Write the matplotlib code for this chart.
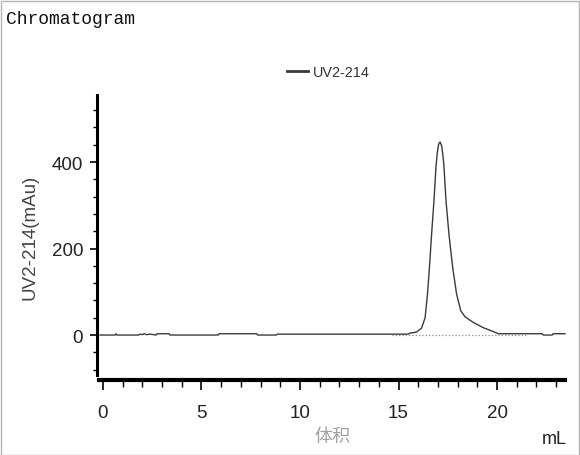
import numpy as np
import matplotlib
matplotlib.use('Agg')
import matplotlib.pyplot as plt
from matplotlib.ticker import MultipleLocator
from matplotlib.patches import Rectangle

# values (mL, mAu)
volume = [-0.15, 0.62, 0.66, 0.70, 1.8, 1.9, 2.0, 2.1, 2.2, 2.4, 2.7, 2.75, 3.35, 3.4,
          5.85, 5.9, 7.8, 7.85, 8.8, 8.85, 15.5, 15.55, 15.92, 16.17, 16.35, 16.47,
          16.57, 16.68, 16.80, 16.90, 16.96, 17.02, 17.07, 17.12, 17.19, 17.24, 17.30,
          17.41, 17.56, 17.75, 17.95, 18.16, 18.38, 18.80, 19.30, 19.81, 20.07, 22.3,
          22.35, 22.8, 22.85, 23.45]
uv = [0, 0, 3, 0, 0, 2, 1, 3, 1, 2, 0, 3, 3, 0,
      0, 3, 3, 0, 0, 2, 2, 4, 7, 16, 40, 94,
      156, 233, 311, 388, 418, 438, 445, 446, 437, 421, 395,
      311, 233, 156, 94, 56, 42, 29, 17, 8, 3, 3,
      0, 0, 3, 3]
baseline_x = [14.65, 21.5]
baseline_y = [0, 0]

series_name = 'UV2-214'
ylabel = 'UV2-214(mAu)'
xlabel = '体积'
xunit = 'mL'
title = 'Chromatogram'

W, H = 580, 456
fig = plt.figure(figsize=(W / 100, H / 100), dpi=100)
fig.patches.append(Rectangle((0.5 / W, 0.5 / H), (W - 2) / W, (H - 2) / H,
                             transform=fig.transFigure, fill=False,
                             edgecolor='#b4b4b4', linewidth=1.0))

ax = fig.add_axes([97 / W, 75 / H, 469 / W, 285 / H])
line, = ax.plot(volume, uv, color='#3a3a3a', lw=1.0, label=series_name)
ax.plot(baseline_x, baseline_y, color='#8a8a8a', lw=0.9, ls=':')

ax.set_xlim(-0.30, 23.5)
ax.set_ylim(-104, 555)

for s in ['top', 'right']:
    ax.spines[s].set_visible(False)
ax.spines['left'].set_linewidth(2.2)
ax.spines['left'].set_bounds(-92, 555)
ax.spines['bottom'].set_linewidth(3.0)
ax.spines['bottom'].set_bounds(-0.18, 23.45)

ax.xaxis.set_major_locator(MultipleLocator(5))
ax.xaxis.set_minor_locator(MultipleLocator(1))
ax.yaxis.set_major_locator(MultipleLocator(200))
ax.yaxis.set_minor_locator(MultipleLocator(40))

ax.tick_params(axis='x', which='major', direction='out', length=7, width=1.2, pad=10)
ax.tick_params(axis='x', which='minor', direction='out', length=5, width=1.0)
ax.tick_params(axis='y', which='major', direction='out', length=5, width=1.2, pad=5)
ax.tick_params(axis='y', which='minor', direction='out', length=3, width=1.0)
for lab in ax.get_xticklabels() + ax.get_yticklabels():
    lab.set_fontfamily('Liberation Sans')
    lab.set_fontsize(13.5)
    lab.set_color('#222222')

fig.text(30 / W, 1 - 237 / H, ylabel, rotation=90, ha='center', va='center',
         family='Liberation Sans', fontsize=13.5, color='#444444')
fig.text(332 / W, 1 - 437 / H, xlabel, ha='center', va='center',
         family=['Noto Sans CJK SC', 'DejaVu Sans'], fontsize=13, color='#a0a0a0')
fig.text(554 / W, 1 - 440 / H, xunit, ha='center', va='center',
         family='Liberation Sans', fontsize=13, color='#222222')
fig.text(6 / W, 1 - 19 / H, title, ha='left', va='center',
         family='Liberation Mono', fontsize=13, color='#111111')

fig.legend(handles=[line], loc='center left', bbox_to_anchor=(287 / W, 1 - 73 / H),
           frameon=False, borderpad=0, borderaxespad=0, handlelength=1.45,
           handletextpad=0.35, prop={'family': 'Liberation Sans', 'size': 10.4},
           labelcolor='#333333')
leg = fig.legends[0]
leg.get_lines()[0].set_linewidth(2.0)

fig.savefig('out.png', dpi=100)
